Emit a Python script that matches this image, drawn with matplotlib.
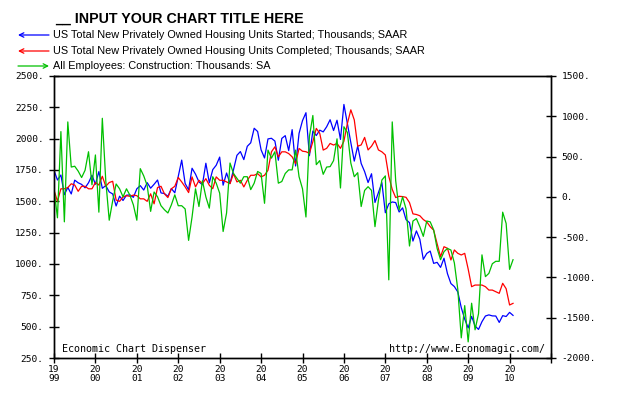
import matplotlib
matplotlib.use('Agg')
import matplotlib.pyplot as plt
import numpy as np

# monthly data, Jan 1999 .. Feb 2010
start_year = 1999

# Housing starts, thousands SAAR (left axis)
started = [
    1748, 1670, 1710, 1553, 1611, 1559, 1669, 1648, 1635, 1608, 1648, 1708,
    1636, 1737, 1604, 1626, 1575, 1559, 1463, 1541, 1507, 1549, 1551, 1532,
    1600, 1625, 1590, 1649, 1605, 1636, 1670, 1567, 1562, 1540, 1602, 1568,
    1698, 1829, 1642, 1592, 1764, 1717, 1655, 1633, 1804, 1648, 1753, 1788,
    1853, 1629, 1726, 1643, 1751, 1867, 1897, 1833, 1939, 1967, 2083, 2057,
    1911, 1846, 1998, 2003, 1981, 1828, 2002, 2024, 1905, 2072, 1782, 2042,
    2144, 2207, 1864, 2061, 2025, 2068, 2054, 2095, 2151, 2065, 2147, 1994,
    2273, 2119, 1969, 1821, 1942, 1802, 1737, 1650, 1720, 1491, 1570, 1649,
    1409, 1480, 1495, 1490, 1415, 1448, 1354, 1330, 1183, 1264, 1197, 1037,
    1084, 1103, 1005, 1013, 973, 1046, 923, 844, 820, 777, 652, 560,
    490, 582, 505, 478, 540, 585, 594, 586, 585, 534, 588, 581,
    614, 590,
]

# Housing completions, thousands SAAR (left axis)
completed = [
    1590, 1500, 1600, 1600, 1610, 1640, 1630, 1580, 1620, 1620, 1600, 1600,
    1650, 1630, 1700, 1620, 1650, 1660, 1510, 1500, 1535, 1545, 1540, 1550,
    1545, 1520, 1520, 1500, 1560, 1480, 1610, 1620, 1560, 1530, 1600, 1620,
    1690, 1655, 1615, 1570, 1695, 1615, 1668, 1641, 1681, 1628, 1601, 1695,
    1668, 1668, 1655, 1641, 1721, 1655, 1668, 1615, 1668, 1708, 1708, 1721,
    1695, 1708, 1748, 1895, 1935, 1855, 1895, 1895, 1881, 1855, 1801, 1922,
    1900, 1896, 1883, 1976, 2082, 2042, 1909, 1923, 1962, 1949, 1962, 1923,
    1980, 2120, 2230, 2150, 1940, 1950, 2010, 1910, 1940, 1985, 1910, 1895,
    1870, 1700, 1595, 1530, 1540, 1538, 1532, 1490, 1400, 1395, 1385, 1355,
    1336, 1298, 1270, 1162, 1058, 1138, 1125, 1032, 1112, 1085, 1072, 1085,
    960, 819, 832, 832, 832, 819, 792, 792, 779, 766, 846, 803,
    673, 686,
]

# Construction employment (right axis)
construction = [
    100, -260, 810, -310, 930, 370, 380, 320, 240, 330, 560, 150,
    520, -190, 975, 200, -290, -50, 160, 100, 0, 100, 20, -100,
    -290, 350, 260, 140, -180, 60, 0, -110, -160, -200, -100, 25,
    -110, -110, -150, -540, -250, 100, -120, 200, 0, -140, 250, 170,
    46, -430, -200, 420, 290, 230, 170, 250, 250, 90, 170, 315,
    290, -80, 580, 480, 560, 170, 190, 290, 335, 335, 580, 250,
    100, -250, 750, 1010, 400, 450, 280, 370, 375, 450, 720, 110,
    870, 800, 420, 250, 300, -120, 80, 126, 80, -370, -40, 209,
    260, -1030, 930, 200, -163, 0, -150, -610, -300, -270, -370, -490,
    -300, -310, -410, -640, -780, -680, -640, -660, -820, -1150, -1750, -1350,
    -1800, -1320, -1650, -1450, -720, -990, -950, -830, -800, -800, -190, -330,
    -900, -780,
]

series_names = [
    'US Total New Privately Owned Housing Units Started; Thousands; SAAR',
    'US Total New Privately Owned Housing Units Completed; Thousands; SAAR',
    'All Employees: Construction: Thousands: SA',
]
colors = ['#0000ff', '#ff0000', '#00c000']

W, H = 621, 399
mono = 'DejaVu Sans Mono'

t = start_year + np.arange(len(started)) / 12.0

fig = plt.figure(figsize=(W / 100, H / 100), dpi=100)
ax = fig.add_axes([54 / W, 1 - 358 / H, 497 / W, 282 / H])
ax2 = ax.twinx()

ax.plot(t, started, color=colors[0], lw=0.9)
ax.plot(t, completed, color=colors[1], lw=0.9)
ax2.plot(t, construction, color=colors[2], lw=0.9)

ax.set_xlim(1999, 2011)
ax.set_ylim(250, 2500)
ax2.set_ylim(-2000, 1500)

lticks = np.arange(250, 2501, 250)
ax.set_yticks(lticks)
ax.set_yticklabels([f'{v}.' for v in lticks], family=mono, fontsize=6.8)
rticks = np.arange(-2000, 1501, 500)
ax2.set_yticks(rticks)
ax2.set_yticklabels([f'{v}.' for v in rticks], family=mono, fontsize=6.8)

years = list(range(1999, 2012))
ax.set_xticks(years)
ax.set_xticklabels([f'{str(y)[:2]}\n{str(y)[2:]}' if y < 2011 else '' for y in years],
                   family=mono, fontsize=6.8, linespacing=0.95)

for a in (ax, ax2):
    a.tick_params(direction='inout', length=7, width=1, colors='black')
    for s in a.spines.values():
        s.set_linewidth(1)
ax.tick_params(axis='y', pad=4)
ax2.tick_params(axis='y', pad=4)
ax.tick_params(axis='x', pad=1.5)

ax.text(0.0155, 0.022, 'Economic Chart Dispenser', transform=ax.transAxes,
        family=mono, fontsize=7.2, va='baseline')
ax.text(0.988, 0.022, 'http://www.Economagic.com/', transform=ax.transAxes,
        family=mono, fontsize=7.2, va='baseline', ha='right')

fig.text(55 / W, 1 - 19 / H, '__ INPUT YOUR CHART TITLE HERE', fontsize=10.3,
         weight='bold', family='Liberation Sans', va='center')

rows = [35, 51, 66]
for name, c, py, left in zip(series_names, colors, rows, [True, True, False]):
    fy = 1 - py / H
    head, tail = (18 / W, 49 / W) if left else (49 / W, 18 / W)
    fig.add_artist(matplotlib.patches.FancyArrowPatch(
        (tail, fy), (head, fy), transform=fig.transFigure,
        arrowstyle='->', mutation_scale=8, color=c, lw=0.9,
        shrinkA=0, shrinkB=0))
    fig.text(53 / W, fy, name, fontsize=7.8, family='Liberation Sans', va='center')

fig.savefig('out.png', dpi=100)
